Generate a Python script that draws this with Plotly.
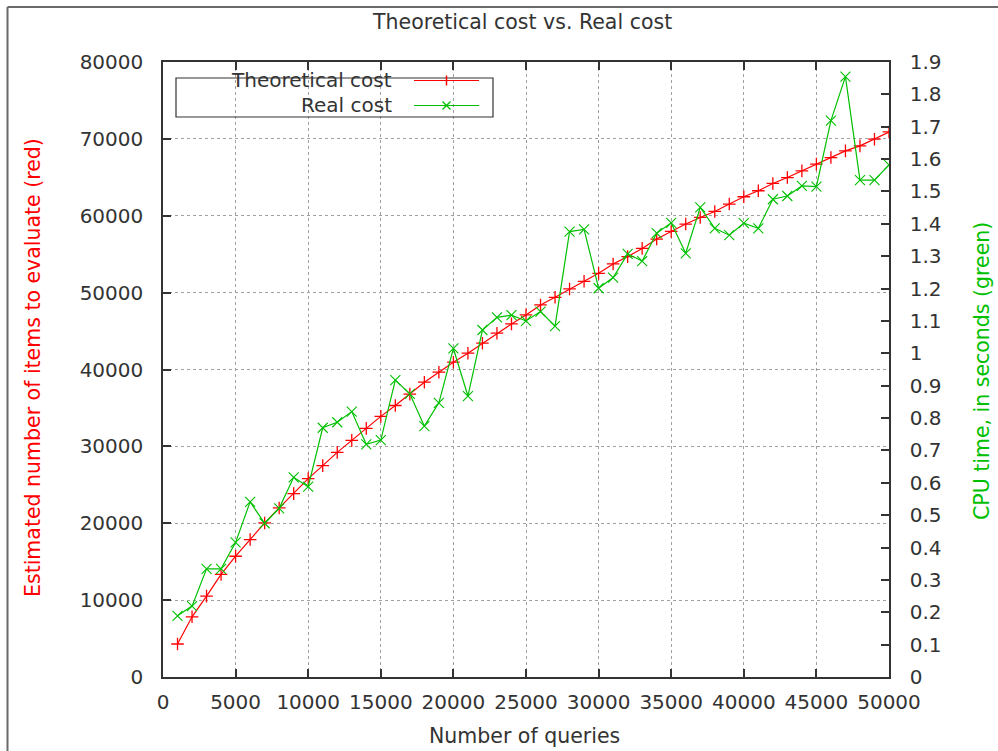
import plotly.graph_objects as go

# ---------------- data ----------------
queries = [1000, 2000, 3000, 4000, 5000, 6000, 7000, 8000, 9000, 10000,
           11000, 12000, 13000, 14000, 15000, 16000, 17000, 18000, 19000, 20000,
           21000, 22000, 23000, 24000, 25000, 26000, 27000, 28000, 29000, 30000,
           31000, 32000, 33000, 34000, 35000, 36000, 37000, 38000, 39000, 40000,
           41000, 42000, 43000, 44000, 45000, 46000, 47000, 48000, 49000, 50000]

theoretical_cost = [4290, 7830, 10520, 13340, 15710, 17880, 20040, 21990, 23850, 25800,
                    27490, 29220, 30780, 32340, 33900, 35320, 36800, 38350, 39650, 40950,
                    42120, 43420, 44720, 45930, 47100, 48400, 49390, 50480, 51470, 52510,
                    53730, 54680, 55750, 56970, 57960, 58920, 59780, 60560, 61520, 62470,
                    63250, 64200, 64970, 65840, 66710, 67570, 68440, 69090, 69960, 70900]

real_cost = [0.189, 0.219, 0.334, 0.334, 0.416, 0.541, 0.475, 0.521, 0.617, 0.588,
             0.770, 0.787, 0.820, 0.719, 0.732, 0.917, 0.875, 0.775, 0.847, 1.015,
             0.868, 1.072, 1.111, 1.118, 1.100, 1.129, 1.084, 1.376, 1.383, 1.201,
             1.234, 1.307, 1.285, 1.371, 1.403, 1.309, 1.451, 1.386, 1.365, 1.402,
             1.386, 1.476, 1.486, 1.517, 1.515, 1.719, 1.855, 1.535, 1.535, 1.582]

x_ticks = [0, 5000, 10000, 15000, 20000, 25000, 30000, 35000, 40000, 45000, 50000]
x_labels = ["0", "5000", "10000", "15000", "20000", "25000", "30000", "35000",
            "40000", "45000", "50000"]
y_ticks = [0, 10000, 20000, 30000, 40000, 50000, 60000, 70000, 80000]
y_labels = ["0", "10000", "20000", "30000", "40000", "50000", "60000", "70000", "80000"]
y2_ticks = [0, 0.1, 0.2, 0.3, 0.4, 0.5, 0.6, 0.7, 0.8, 0.9, 1.0,
            1.1, 1.2, 1.3, 1.4, 1.5, 1.6, 1.7, 1.8, 1.9]
y2_labels = ["0", "0.1", "0.2", "0.3", "0.4", "0.5", "0.6", "0.7", "0.8", "0.9", "1",
             "1.1", "1.2", "1.3", "1.4", "1.5", "1.6", "1.7", "1.8", "1.9"]

title_text = "Theoretical cost vs. Real cost"
x_title = "Number of queries"
y_title = "Estimated number of items to evaluate (red)"
y2_title = "CPU time, in seconds (green)"
series_names = ["Theoretical cost", "Real cost"]

RED = "#ff0000"
GREEN = "#00c000"
FONT = "DejaVu Sans"
TXT = "#333333"
FS = 20
FS_T = 20.5

W, H = 998, 751
L, R, T, B = 163, 109, 62, 74
PW, PH = W - L - R, H - T - B


def px(xp):
    return (xp - L) / PW


def py(yp):
    return (H - B - yp) / PH


fig = go.Figure()
fig.add_trace(go.Scatter(
    x=queries, y=theoretical_cost, name=series_names[0], mode="lines+markers",
    line=dict(color=RED, width=1.2),
    marker=dict(symbol="cross-thin", size=9, line=dict(color=RED, width=1.3)),
    yaxis="y", showlegend=False))
fig.add_trace(go.Scatter(
    x=queries, y=real_cost, name=series_names[1], mode="lines+markers",
    line=dict(color=GREEN, width=1.2),
    marker=dict(symbol="x-thin", size=10, line=dict(color=GREEN, width=1.1)),
    yaxis="y2", showlegend=False))

axis_common = dict(showline=True, linecolor="#333333", linewidth=1.5,
                   ticks="inside", ticklen=8, tickcolor="#333333", tickwidth=1.5,
                   tickfont=dict(family=FONT, size=FS, color=TXT), zeroline=False)

fig.update_layout(
    width=W, height=H,
    margin=dict(l=L, r=R, t=T, b=B, pad=0),
    paper_bgcolor="white", plot_bgcolor="white",
    font=dict(family=FONT, size=FS, color=TXT),
    showlegend=False,
    xaxis=dict(range=[0, 50000], tickvals=x_ticks, ticktext=x_labels, mirror="ticks",
               showgrid=True, gridcolor="#a0a0a0", griddash="dot", gridwidth=1,
               ticklabelstandoff=6, **axis_common),
    yaxis=dict(range=[0, 80000], tickvals=y_ticks, ticktext=y_labels, mirror=True,
               showgrid=True, gridcolor="#a0a0a0", griddash="dot", gridwidth=1,
               ticklabelstandoff=14, **axis_common),
    yaxis2=dict(range=[0, 1.9], tickvals=y2_ticks, ticktext=y2_labels,
                overlaying="y", side="right", showgrid=False,
                ticklabelstandoff=15, **axis_common),
)

ann = []
ann.append(dict(text=title_text, x=px(522), y=py(22), xref="paper", yref="paper",
                xanchor="center", yanchor="middle", showarrow=False,
                font=dict(family=FONT, size=FS_T, color=TXT)))
ann.append(dict(text=x_title, x=px(524), y=py(736), xref="paper", yref="paper",
                xanchor="center", yanchor="middle", showarrow=False,
                font=dict(family=FONT, size=FS_T, color=TXT)))
ann.append(dict(text=y_title, x=px(33), y=py(368), xref="paper", yref="paper",
                xanchor="center", yanchor="middle", showarrow=False, textangle=-90,
                font=dict(family=FONT, size=FS_T, color=RED)))
ann.append(dict(text=y2_title, x=px(982), y=py(371), xref="paper", yref="paper",
                xanchor="center", yanchor="middle", showarrow=False, textangle=-90,
                font=dict(family=FONT, size=FS_T, color=GREEN)))
# legend texts
ann.append(dict(text=series_names[0], x=px(394), y=py(80), xref="paper", yref="paper",
                xanchor="right", yanchor="middle", showarrow=False,
                font=dict(family=FONT, size=FS, color=TXT)))
ann.append(dict(text=series_names[1], x=px(394), y=py(105), xref="paper", yref="paper",
                xanchor="right", yanchor="middle", showarrow=False,
                font=dict(family=FONT, size=FS, color=TXT)))

shapes = []
# outer frame lines (top and left)
shapes.append(dict(type="line", xref="paper", yref="paper", x0=px(7.5), x1=px(998),
                   y0=py(7), y1=py(7), line=dict(color="#6a6a6a", width=2)))
shapes.append(dict(type="line", xref="paper", yref="paper", x0=px(7.5), x1=px(7.5),
                   y0=py(7), y1=py(751), line=dict(color="#6a6a6a", width=2)))
# legend box
shapes.append(dict(type="rect", xref="paper", yref="paper", x0=px(176), x1=px(493),
                   y0=py(78), y1=py(117), line=dict(color="#333333", width=1.2),
                   fillcolor="rgba(0,0,0,0)"))
# legend samples
for yy, col in [(80.5, RED), (105.5, GREEN)]:
    shapes.append(dict(type="line", xref="paper", yref="paper", x0=px(414), x1=px(479),
                       y0=py(yy), y1=py(yy), line=dict(color=col, width=1.2)))
cx = 446.5
shapes.append(dict(type="line", xref="paper", yref="paper", x0=px(cx), x1=px(cx),
                   y0=py(80.5 - 5), y1=py(80.5 + 5), line=dict(color=RED, width=1.5)))
shapes.append(dict(type="line", xref="paper", yref="paper", x0=px(cx - 4), x1=px(cx + 4),
                   y0=py(105.5 - 4), y1=py(105.5 + 4), line=dict(color=GREEN, width=1.2)))
shapes.append(dict(type="line", xref="paper", yref="paper", x0=px(cx - 4), x1=px(cx + 4),
                   y0=py(105.5 + 4), y1=py(105.5 - 4), line=dict(color=GREEN, width=1.2)))

fig.update_layout(annotations=ann, shapes=shapes)

fig.write_html("out.html")
